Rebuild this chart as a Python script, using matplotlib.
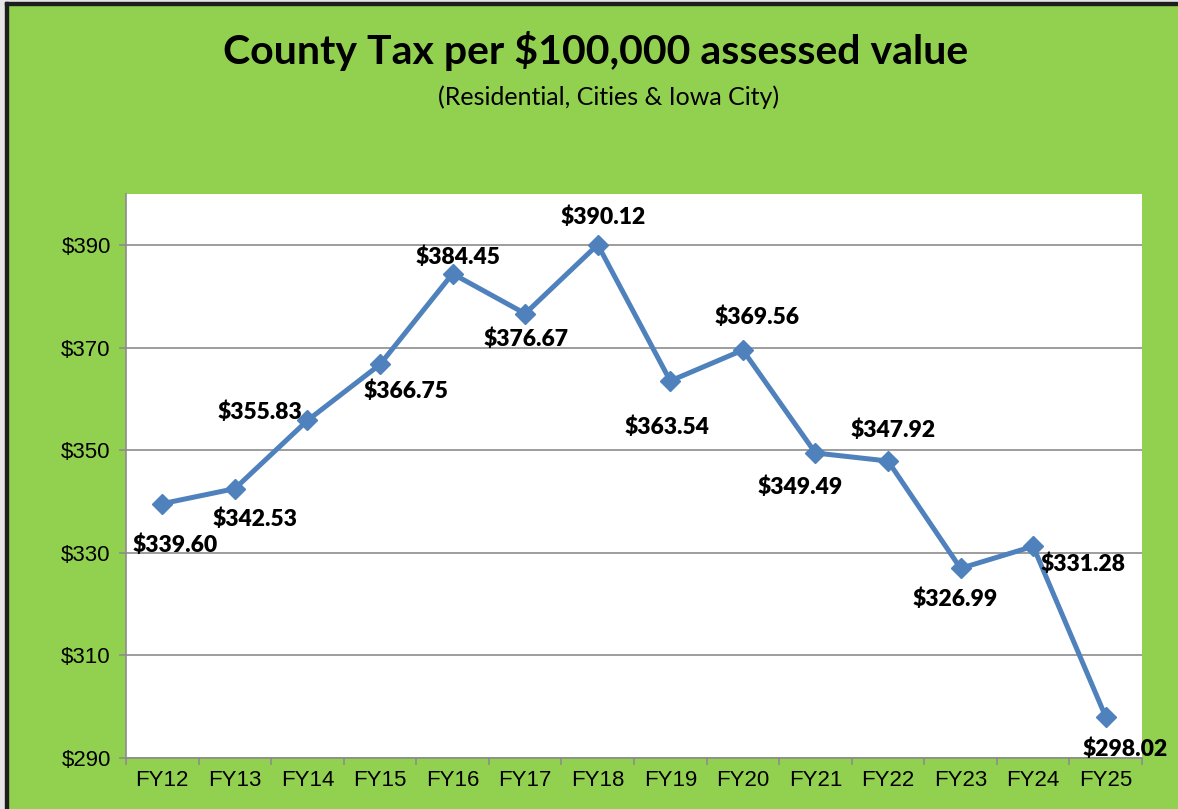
import matplotlib
matplotlib.use("Agg")
import matplotlib.pyplot as plt
from matplotlib.patches import Rectangle

# values
years = ["FY12", "FY13", "FY14", "FY15", "FY16", "FY17", "FY18",
         "FY19", "FY20", "FY21", "FY22", "FY23", "FY24", "FY25"]
tax = [339.60, 342.53, 355.83, 366.75, 384.45, 376.67, 390.12,
       363.54, 369.56, 349.49, 347.92, 326.99, 331.28, 298.02]
y_ticks = [290, 310, 330, 350, 370, 390]

# where each data label sits relative to its marker (pixels)
label_offsets = [(13, -42), (20, -31), (-48, 8), (26, -27), (5, 16), (1, -26), (5, 27),
                 (-3, -46), (14, 33), (-15, -34), (5, 31), (-5, -31), (50, -18), (19, -32)]

GREEN = "#92D050"
BLUE = "#4F81BD"
GRID = "#8C8C8C"

fig = plt.figure(figsize=(11.78, 8.09), dpi=100, facecolor=GREEN)
W, H = 1178, 809

# window-ish frame on the left/top edge
fig.patches.append(Rectangle((0, 0), 5 / W, 1, transform=fig.transFigure,
                             color="#E6E6E6", zorder=0))
fig.patches.append(Rectangle((5 / W, 0), 2.5 / W, 1 - 2 / H, transform=fig.transFigure,
                             color="#1E1E1E", zorder=1))
fig.patches.append(Rectangle((0, 1 - 2 / H), 1, 2 / H, transform=fig.transFigure,
                             color="#E6E6E6", zorder=0))
fig.patches.append(Rectangle((5 / W, 1 - 5 / H), 1, 3 / H, transform=fig.transFigure,
                             color="#1E1E1E", zorder=1))

ax = fig.add_axes([126 / W, 51 / H, 1016 / W, 564 / H])
ax.set_facecolor("white")

x = list(range(len(years)))
ax.plot(x, tax, color=BLUE, linewidth=3.6, marker="D", markersize=10,
        markerfacecolor=BLUE, markeredgecolor=BLUE, zorder=3, clip_on=False)

for xi, val, (dx, dy) in zip(x, tax, label_offsets):
    ax.annotate(f"\\${val:.2f}", (xi, val), xytext=(dx, dy), textcoords="offset pixels",
                ha="center", va="center", fontsize=16.5, fontweight="heavy",
                family="Lato", color="black", zorder=4, annotation_clip=False)

ax.set_xlim(-0.5, len(years) - 0.5)
ax.set_ylim(290, 400)
ax.set_yticks(y_ticks)
ax.set_yticklabels([f"${v}" for v in y_ticks], family="Liberation Sans", fontsize=16)
ax.set_xticks(x)
ax.set_xticklabels(years, family="Liberation Sans", fontsize=16)
ax.set_xticks([i - 0.5 for i in range(len(years) + 1)], minor=True)

ax.grid(axis="y", color=GRID, linewidth=1.2)
ax.set_axisbelow(True)
ax.tick_params(axis="x", which="major", length=0, pad=9)
ax.tick_params(axis="x", which="minor", length=5, color=GRID, width=1.2)
ax.tick_params(axis="y", length=5, color=GRID, width=1.2, pad=6)
for side in ("top", "right"):
    ax.spines[side].set_visible(False)
for side in ("left", "bottom"):
    ax.spines[side].set_color(GRID)
    ax.spines[side].set_linewidth(1.2)

fig.text(596 / W, 1 - 51 / H, "County Tax per \\$100,000 assessed value", ha="center",
         va="center", fontsize=29.5, fontweight="bold", family="Lato")
fig.text(609 / W, 1 - 97 / H, "(Residential, Cities & Iowa City)", ha="center",
         va="center", fontsize=18, family="Lato")

fig.savefig("out.png", dpi=100, facecolor=GREEN)
